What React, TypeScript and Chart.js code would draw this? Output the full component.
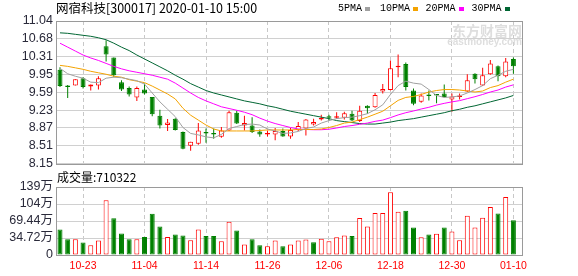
import React, { useEffect, useRef } from 'react';
import { Chart, registerables } from 'chart.js';

Chart.register(...registerables);

const stockName = '网宿科技';
const stockCode = '300017';
const quoteTime = '2020-01-10 15:00';
const volumeTitle = '成交量';
const lastVolume = 710322;

const dates = [
  '10-18', '10-21', '10-22', '10-23', '10-24', '10-25', '10-28', '10-29', '10-30', '10-31',
  '11-01', '11-04', '11-05', '11-06', '11-07', '11-08', '11-11', '11-12', '11-13', '11-14',
  '11-15', '11-18', '11-19', '11-20', '11-21', '11-22', '11-25', '11-26', '11-27', '11-28',
  '11-29', '12-02', '12-03', '12-04', '12-05', '12-06', '12-09', '12-10', '12-11', '12-12',
  '12-13', '12-16', '12-17', '12-18', '12-19', '12-20', '12-23', '12-24', '12-25', '12-26',
  '12-27', '12-30', '12-31', '01-02', '01-03', '01-06', '01-07', '01-08', '01-09', '01-10',
];

const opens = [
  10.05, 9.73, 9.73, 9.88, 9.71, 9.73, 10.53, 10.3, 9.8, 9.68,
  9.49, 9.65, 9.5, 9.12, 8.93, 9.06, 8.79, 8.51, 8.55, 8.78,
  8.76, 8.69, 8.82, 9.18, 8.92, 8.92, 8.8, 8.74, 8.74, 8.81,
  8.7, 8.83, 8.86, 8.94, 9.04, 9.09, 9.08, 9.08, 9.16, 9.01,
  9.32, 9.29, 9.61, 9.64, 10.1, 10.17, 9.63, 9.4, 9.54, 9.54,
  9.57, 9.45, 9.5, 9.61, 9.97, 9.73, 9.96, 10.12, 9.92, 10.27,
];
const highs = [
  10.1, 9.74, 9.86, 9.9, 9.75, 9.92, 10.65, 10.3, 9.84, 9.71,
  9.71, 9.77, 9.5, 9.24, 9.05, 9.07, 8.8, 8.59, 8.97, 8.86,
  8.86, 8.89, 9.22, 9.22, 9.12, 9.09, 8.84, 8.82, 8.87, 8.86,
  8.87, 8.99, 9.05, 9.06, 9.14, 9.14, 9.19, 9.2, 9.22, 9.32,
  9.33, 9.58, 9.76, 10.24, 10.36, 10.2, 9.67, 9.57, 9.63, 9.56,
  9.75, 9.57, 9.57, 9.96, 9.98, 10.09, 10.25, 10.14, 10.29, 10.3,
];
const lows = [
  9.7, 9.48, 9.73, 9.67, 9.63, 9.65, 10.22, 9.9, 9.62, 9.51,
  9.42, 9.55, 9.11, 8.86, 8.81, 8.82, 8.44, 8.41, 8.53, 8.57,
  8.65, 8.67, 8.81, 8.95, 8.82, 8.77, 8.69, 8.7, 8.62, 8.69,
  8.65, 8.81, 8.72, 8.92, 9.02, 9.02, 9.06, 9.04, 9.01, 8.99,
  9.16, 9.28, 9.57, 9.63, 9.9, 9.63, 9.33, 9.38, 9.43, 9.37,
  9.49, 9.2, 9.45, 9.6, 9.77, 9.72, 9.95, 9.82, 9.9, 9.97,
];
const closes = [
  9.72, 9.7, 9.86, 9.7, 9.75, 9.88, 10.36, 9.94, 9.65, 9.55,
  9.68, 9.57, 9.15, 8.92, 8.98, 8.83, 8.45, 8.59, 8.82, 8.76,
  8.74, 8.82, 9.19, 8.96, 8.97, 8.79, 8.74, 8.76, 8.81, 8.7,
  8.83, 8.91, 9.04, 8.99, 9.07, 9.08, 9.11, 9.17, 9.02, 9.22,
  9.27, 9.54, 9.66, 10.08, 10.12, 9.7, 9.36, 9.53, 9.52, 9.53,
  9.5, 9.51, 9.53, 9.84, 9.86, 9.94, 10.18, 9.92, 10.22, 10.12,
];
// volume in 万 (10k)
const volumes = [
  52, 32, 32, 25.5, 20, 29.5, 112, 75, 44, 32,
  32, 36.7, 84, 58, 36.7, 42, 40, 30, 52, 38.8,
  38.8, 28, 68, 50, 21.5, 32, 20, 18, 29.5, 18,
  21.5, 29.5, 31.5, 26, 33.4, 28, 36, 40, 38.8, 75.6,
  58, 85.6, 85.6, 128.4, 88.3, 90.3, 56.2, 36, 42, 43.5,
  56, 48, 30, 80, 56, 76, 98, 85, 118.4, 71.0322,
];

const ma5 = [
  10.08, 9.97, 9.92, 9.88, 9.8, 9.79, 9.88, 9.9, 9.89, 9.86,
  9.83, 9.76, 9.58, 9.4, 9.25, 9.1, 8.88, 8.76, 8.73, 8.69,
  8.67, 8.74, 8.86, 8.9, 8.94, 8.95, 8.93, 8.85, 8.81, 8.76,
  8.77, 8.8, 8.86, 8.89, 8.97, 9.02, 9.06, 9.08, 9.09, 9.12,
  9.16, 9.24, 9.34, 9.55, 9.73, 9.82, 9.78, 9.76, 9.65, 9.53,
  9.49, 9.5, 9.52, 9.58, 9.65, 9.73, 9.87, 9.94, 10.02, 10.06,
];
const ma10 = [
  10.14, 10.12, 10.09, 10.06, 10.02, 9.99, 9.96, 9.92, 9.9, 9.85,
  9.82, 9.79, 9.72, 9.64, 9.56, 9.46, 9.27, 9.13, 9.03, 8.93,
  8.85, 8.81, 8.81, 8.81, 8.81, 8.81, 8.82, 8.83, 8.83, 8.83,
  8.83, 8.84, 8.84, 8.84, 8.85, 8.88, 8.92, 8.97, 8.99, 9.04,
  9.09, 9.15, 9.21, 9.32, 9.43, 9.49, 9.51, 9.55, 9.6, 9.63,
  9.65, 9.65, 9.64, 9.62, 9.6, 9.62, 9.69, 9.73, 9.8, 9.86,
];
const ma20 = [
  10.59, 10.51, 10.43, 10.35, 10.29, 10.24, 10.18, 10.12, 10.07, 10.03,
  10.0, 9.97, 9.94, 9.9, 9.86, 9.78, 9.68, 9.58, 9.49, 9.42,
  9.36, 9.3, 9.265, 9.23, 9.19, 9.14, 9.07, 9.01, 8.96, 8.92,
  8.88, 8.85, 8.84, 8.835, 8.835, 8.845, 8.87, 8.9, 8.92, 8.945,
  8.97, 9.005, 9.03, 9.08, 9.135, 9.18, 9.215, 9.255, 9.29, 9.335,
  9.37, 9.4, 9.425, 9.465, 9.505, 9.55, 9.6, 9.64, 9.7, 9.745,
];
const ma30 = [
  10.8, 10.79, 10.77, 10.75, 10.73, 10.7, 10.66, 10.59, 10.51, 10.44,
  10.35, 10.27, 10.19, 10.11, 10.03, 9.94, 9.86, 9.77, 9.7, 9.63,
  9.58, 9.54, 9.5, 9.46, 9.42, 9.39, 9.36, 9.32, 9.29, 9.25,
  9.21, 9.18, 9.15, 9.12, 9.09, 9.06, 9.02, 9.0, 8.98, 8.96,
  8.95, 8.95, 8.97, 8.99, 9.02, 9.04, 9.06, 9.09, 9.12, 9.15,
  9.18, 9.22, 9.25, 9.29, 9.32, 9.36, 9.4, 9.44, 9.48, 9.53,
];

const maNames = ['5PMA', '10PMA', '20PMA', '30PMA'];
const priceTicks = [8.15, 8.51, 8.87, 9.23, 9.59, 9.95, 10.31, 10.68, 11.04];
const volumeTicks = [0, 34.72, 69.44, 104.16, 138.88];
const volumeTickLabels = ['0', '34.72万', '69.44万', '104万', '139万'];
const labelStart = 3;
const labelStep = 8;

const RED = '#ff0000';
const GREEN = '#008000';
const MA_COLORS = ['#a0a0a0', '#f4a300', '#ff00ff', '#006633'];
const FONT = '"Liberation Sans", Arial, "Noto Sans CJK SC", sans-serif';
const CJK = '"Noto Sans CJK SC", "Liberation Sans", sans-serif';

const X_MIN = -0.52;
const X_MAX = 60.25;

const framePlugin = {
  id: 'frame',
  afterDraw(chart: any) {
    const { ctx, chartArea } = chart;
    const x0 = Math.round(chartArea.left) + 0.5;
    const y0 = Math.round(chartArea.top) + 0.5;
    const x1 = Math.round(chartArea.right) - 0.5;
    const y1 = Math.round(chartArea.bottom) + 0.5;
    ctx.save();
    ctx.strokeStyle = '#9a9a9a';
    ctx.lineWidth = 1;
    ctx.strokeRect(x0, y0, x1 - x0, y1 - y0);
    ctx.restore();
  },
};

const watermarkPlugin = {
  id: 'watermark',
  beforeDatasetsDraw(chart: any) {
    const { ctx, chartArea } = chart;
    ctx.save();
    ctx.fillStyle = '#dedede';
    ctx.textAlign = 'right';
    ctx.textBaseline = 'alphabetic';
    ctx.font = 'bold 14px ' + CJK;
    ctx.fillText('东方财富网', chartArea.right - 1, chartArea.top + 15);
    ctx.font = 'bold 10px ' + FONT;
    ctx.fillText('eastmoney.com', chartArea.right - 1, chartArea.top + 24);
    ctx.restore();
  },
};

export default function App() {
  const mainRef = useRef<HTMLCanvasElement>(null);
  const volRef = useRef<HTMLCanvasElement>(null);

  useEffect(() => {
    const idx = dates.map((_, i) => i);
    const isUp = idx.map((i) => closes[i] >= opens[i]);
    const volUp = idx.map((i) => (i === 0 ? closes[0] >= opens[0] : closes[i] >= closes[i - 1]));
    const labelIdx = idx.filter((i) => i >= labelStart && (i - labelStart) % labelStep === 0);

    const xScale = (showLabels: boolean, height: number) => ({
      type: 'linear',
      min: X_MIN,
      max: X_MAX,
      offset: false,
      afterBuildTicks: (s: any) => {
        s.ticks = labelIdx.map((v) => ({ value: v }));
      },
      afterFit: (s: any) => {
        s.height = height;
      },
      grid: { color: '#c8c8c8', lineWidth: 1, drawTicks: false, offset: false },
      border: { display: false, dash: [4, 3] },
      ticks: {
        display: showLabels,
        color: RED,
        font: { family: FONT, size: 10.5 },
        padding: 5,
        autoSkip: false,
        maxRotation: 0,
        callback: (v: any) => dates[v] ?? '',
      },
    });

    const maSets = [ma5, ma10, ma20, ma30].map((arr, k) => ({
      type: 'line',
      label: maNames[k],
      data: arr.map((v, i) => ({ x: i, y: v })),
      borderColor: MA_COLORS[k],
      borderWidth: 1,
      pointRadius: 0,
      tension: 0,
      order: 0,
    }));

    const main = new Chart(mainRef.current as HTMLCanvasElement, {
      type: 'bar',
      data: {
        datasets: [
          ...maSets,
          {
            type: 'bar',
            label: 'wick',
            data: idx.map((i) => ({ x: i, y: [lows[i], highs[i]] })),
            backgroundColor: idx.map((i) => (isUp[i] ? RED : GREEN)),
            borderWidth: 0,
            barThickness: 1,
            grouped: false,
            inflateAmount: 0,
            order: 5,
          },
          {
            type: 'bar',
            label: 'body',
            data: idx.map((i) => ({ x: i, y: [opens[i], closes[i]] })),
            backgroundColor: idx.map((i) =>
              isUp[i] ? (Math.abs(closes[i] - opens[i]) < 0.04 ? RED : '#ffffff') : GREEN
            ),
            borderColor: idx.map((i) => (isUp[i] ? RED : GREEN)),
            borderWidth: 1,
            borderSkipped: false,
            barThickness: 5,
            minBarLength: 1.5,
            grouped: false,
            inflateAmount: 0,
            order: 4,
          },
        ] as any,
      },
      options: {
        responsive: false,
        animation: false,
        devicePixelRatio: 1,
        events: [],
        layout: { padding: { top: 21, right: 55, bottom: 0, left: 0 } },
        plugins: { legend: { display: false }, tooltip: { enabled: false } },
        scales: {
          x: xScale(false, 9) as any,
          y: {
            min: 8.15,
            max: 11.04,
            afterBuildTicks: (s: any) => {
              s.ticks = priceTicks.map((v) => ({ value: v }));
            },
            afterFit: (s: any) => {
              s.width = 56;
            },
            grid: { color: '#d0d0d0', drawTicks: false },
            border: { display: false },
            ticks: {
              color: '#2a2a3a',
              font: { family: FONT, size: 12.5 },
              padding: 3,
              autoSkip: false,
              callback: (v: any) => Number(v).toFixed(2),
            },
          },
        },
      },
      plugins: [watermarkPlugin, framePlugin],
    });

    const vol = new Chart(volRef.current as HTMLCanvasElement, {
      type: 'bar',
      data: {
        datasets: [
          {
            label: volumeTitle,
            data: idx.map((i) => ({ x: i, y: volumes[i] })),
            backgroundColor: idx.map((i) => (volUp[i] ? '#ffffff' : GREEN)),
            borderColor: idx.map((i) => (volUp[i] ? RED : GREEN)),
            borderWidth: 1,
            borderSkipped: false,
            barThickness: 5,
            grouped: false,
            inflateAmount: 0,
          },
        ] as any,
      },
      options: {
        responsive: false,
        animation: false,
        devicePixelRatio: 1,
        events: [],
        layout: { padding: { top: 15, right: 55, bottom: 0, left: 0 } },
        plugins: { legend: { display: false }, tooltip: { enabled: false } },
        scales: {
          x: xScale(true, 21) as any,
          y: {
            min: 0,
            max: 138.88,
            afterBuildTicks: (s: any) => {
              s.ticks = volumeTicks.map((v) => ({ value: v }));
            },
            afterFit: (s: any) => {
              s.width = 56;
            },
            grid: { color: '#d0d0d0', drawTicks: false },
            border: { display: false },
            ticks: {
              color: '#2a2a3a',
              font: { family: FONT, size: 12.5 },
              padding: 3,
              autoSkip: false,
              callback: (_v: any, i: number) => volumeTickLabels[i],
            },
          },
        },
      },
      plugins: [framePlugin],
    });

    return () => {
      main.destroy();
      vol.destroy();
    };
  }, []);

  const legendLeft = [338, 380, 425.5, 471.5];

  return (
    <div
      style={{
        position: 'fixed',
        left: 0,
        top: 0,
        width: 578,
        height: 276,
        background: '#ffffff',
        overflow: 'hidden',
      }}
    >
      <canvas
        ref={mainRef}
        width={578}
        height={174}
        style={{ position: 'absolute', left: 0, top: 0, width: 578, height: 174 }}
      />
      <canvas
        ref={volRef}
        width={578}
        height={104}
        style={{ position: 'absolute', left: 0, top: 172, width: 578, height: 104 }}
      />
      <div
        style={{
          position: 'absolute',
          left: 56,
          top: -1,
          fontFamily: CJK,
          fontSize: 12.5,
          lineHeight: '17px',
          color: '#000',
          whiteSpace: 'nowrap',
        }}
      >
        {`${stockName}[${stockCode}] ${quoteTime}`}
      </div>
      {maNames.map((name, k) => (
        <div
          key={name}
          style={{
            position: 'absolute',
            left: legendLeft[k],
            top: 1,
            fontFamily: '"Liberation Mono", "DejaVu Sans Mono", monospace',
            fontSize: 10,
            lineHeight: '15px',
            color: '#000',
            whiteSpace: 'nowrap',
            display: 'flex',
            alignItems: 'center',
          }}
        >
          <span>{name}</span>
          <span
            style={{
              display: 'inline-block',
              width: 5,
              height: 4,
              marginLeft: 3,
              background: MA_COLORS[k],
            }}
          />
        </div>
      ))}
      <div
        style={{
          position: 'absolute',
          left: 57,
          top: 168,
          fontFamily: CJK,
          fontSize: 12,
          lineHeight: '17px',
          color: '#000',
          whiteSpace: 'nowrap',
        }}
      >
        {`${volumeTitle}:${lastVolume}`}
      </div>
    </div>
  );
}
